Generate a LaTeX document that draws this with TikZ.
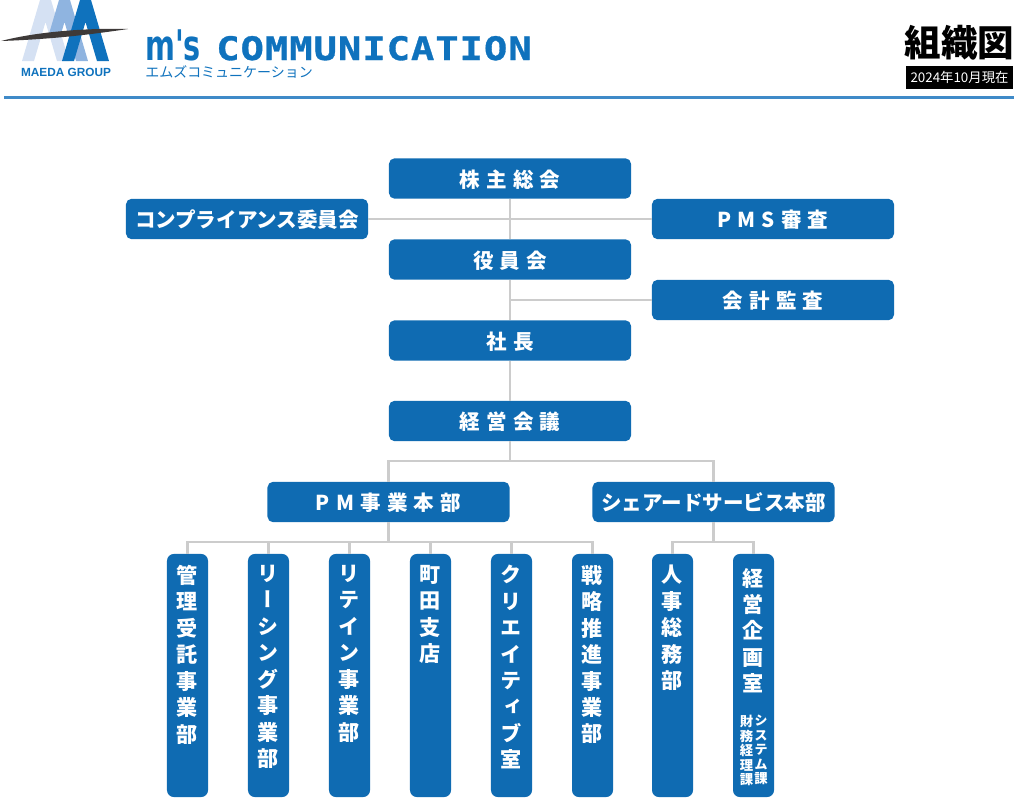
\documentclass[tikz,border=0pt]{standalone}
\usepackage{fontspec}
\setmainfont{Noto Sans CJK JP}
\newfontfamily\tatefont[RawFeature=+vert]{Noto Sans CJK JP}
\newfontfamily\logofont{DejaVu Sans Mono}
\newfontfamily\msfont{DejaVu Sans}
\newfontfamily\latinfont{Liberation Sans}
\definecolor{boxblue}{HTML}{0F6BB2}
\definecolor{logoblue}{HTML}{0F72BD}
\definecolor{logomid}{HTML}{8FB4E0}
\definecolor{logolight}{HTML}{D5E1F3}
\definecolor{logodark}{HTML}{3E3A39}
\definecolor{ruleblue}{HTML}{3F8AC8}
\definecolor{linegray}{HTML}{CCCCCC}
\newcommand{\tatetext}[1]{\parbox[c][6.075cm][t]{1.025cm}{\centering\vspace*{8pt}\tatefont\bfseries #1\par}}
\begin{document}
\begin{tikzpicture}[
  x=0.025cm, y=-0.025cm,
  hbox/.style={fill=boxblue, text=white, rounded corners=0.14cm, minimum width=6.05cm, minimum height=1.01cm, inner sep=0pt, text height=14pt, text depth=1.5pt, font=\fontsize{14.6}{18}\selectfont\bfseries},
  wide/.style={hbox, font=\fontsize{14.6}{18}\selectfont\bfseries\addfontfeature{LetterSpace=30}},
  vbox/.style={fill=boxblue, text=white, rounded corners=0.17cm, inner sep=0pt, font=\fontsize{15}{18.8}\selectfont},
  small/.style={text=white, inner sep=0pt, align=center, anchor=north, font=\tatefont\fontsize{9.5}{10.3}\selectfont\bfseries},
  link/.style={draw=linegray, line width=1.5pt}
]
\useasboundingbox (0,0) rectangle (1014,797);

% header
\fill[logolight, xshift=-40*0.025cm] (62,61) -- (80,0) -- (91,0) -- (109,61) -- (97,61) -- (85.5,22) -- (74,61) -- cycle;
\fill[logomid, xshift=-21*0.025cm] (69.1,37) -- (80,0) -- (91,0) -- (109,61) -- (97,61) -- (85.5,22) -- (81.1,37) -- cycle;
\fill[logoblue] (62,61) -- (80,0) -- (91,0) -- (109,61) -- (97,61) -- (85.5,22) -- (74,61) -- cycle;
\fill[logodark] (1,41) .. controls (40,31) and (90,28) .. (128,29) .. controls (100,33) and (60,39) .. (1,41) -- cycle;
\node[text=logoblue, font=\latinfont\fontsize{8.4}{10}\selectfont\bfseries] (group) at (66,72.5) {MAEDA GROUP};
\node[text=logoblue, anchor=base west, inner sep=0pt, text depth=0pt, font=\msfont\fontsize{30}{32}\selectfont\bfseries\addfontfeature{FakeStretch=0.68}] (ms) at (145,60) {m's};
\node[text=logoblue, anchor=base west, inner sep=0pt, text depth=0pt, font=\logofont\fontsize{23}{24}\selectfont\bfseries\addfontfeature{FakeStretch=1.2,LetterSpace=3,FakeBold=1}] (comm) at (216,60) {COMMUNICATION};
\node[text=logoblue, anchor=west, inner sep=0pt, font=\fontsize{9.95}{12}\selectfont] (kana) at (145,71.5) {エムズコミュニケーション};
\node[font=\fontsize{26}{30}\selectfont\bfseries, inner sep=0pt] (title) at (959.5,43) {組織図};
\node[fill=black, text=white, minimum width=2.68cm, minimum height=0.58cm, inner sep=0pt, font=\fontsize{9.5}{11}\selectfont] (date) at (959.5,77.5) {2024年10月現在};
\coordinate (ruleL) at (4,97.5);
\coordinate (ruleR) at (1014,97.5);
\draw[draw=ruleblue, line width=1.5pt] (ruleL) -- (ruleR);

% upper boxes
\node[wide] (soukai) at (510,178.5) {株主総会};
\node[hbox] (comp) at (247,219) {コンプライアンス委員会};
\node[wide] (pms) at (773,219) {PMS審査};
\node[wide] (yakuin) at (510,259.5) {役員会};
\node[wide] (kansa) at (773,300) {会計監査};
\node[wide] (shacho) at (510,340.5) {社長};
\node[wide] (keiei) at (510,421) {経営会議};
\node[wide] (pmhq) at (388.5,502) {PM事業本部};
\node[hbox] (sshq) at (713.5,502) {シェアードサービス本部};

% departments
\foreach \name/\x/\chars in {
  kanri/187.5/{管\\理\\受\\託\\事\\業\\部},
  leasing/268.5/{リ\\ー\\シ\\ン\\グ\\事\\業\\部},
  retail/349.5/{リ\\テ\\イ\\ン\\事\\業\\部},
  machida/430.5/{町\\田\\支\\店},
  creative/511.5/{ク\\リ\\エ\\イ\\テ\\ィ\\ブ\\室},
  senryaku/592.5/{戦\\略\\推\\進\\事\\業\\部},
  jinji/672.5/{人\\事\\総\\務\\部},
  kikaku/753.5/{\vspace*{2pt}経\\営\\企\\画\\室}}
  \node[vbox] (\name) at (\x,675.5) {\tatetext{\chars}};
\node[small] (system) at (761,715) {シ\\ス\\テ\\ム\\課};
\node[small] (zaimu) at (746.5,715) {財\\務\\経\\理\\課};

% connectors
\draw[link] (soukai) -- (yakuin);
\draw[link] (comp) -- (pms);
\draw[link] (yakuin) -- (shacho);
\draw[link] (kansa) -- (kansa -| shacho);
\draw[link] (shacho) -- (keiei);
\coordinate (busA) at (510,461);
\draw[link] (keiei) -- (busA);
\draw[link] (pmhq) |- (busA) -| (sshq);
\coordinate (busB) at (388.5,542);
\coordinate (busC) at (713.5,542);
\draw[link] (pmhq) -- (busB);
\draw[link] (sshq) -- (busC);
\draw[link] (kanri) |- (busB) -| (senryaku);
\foreach \name in {leasing,retail,machida,creative}
  \draw[link] (\name.north) -- (\name.north |- busB);
\draw[link] (jinji) |- (busC) -| (kikaku);
\end{tikzpicture}
\end{document}
